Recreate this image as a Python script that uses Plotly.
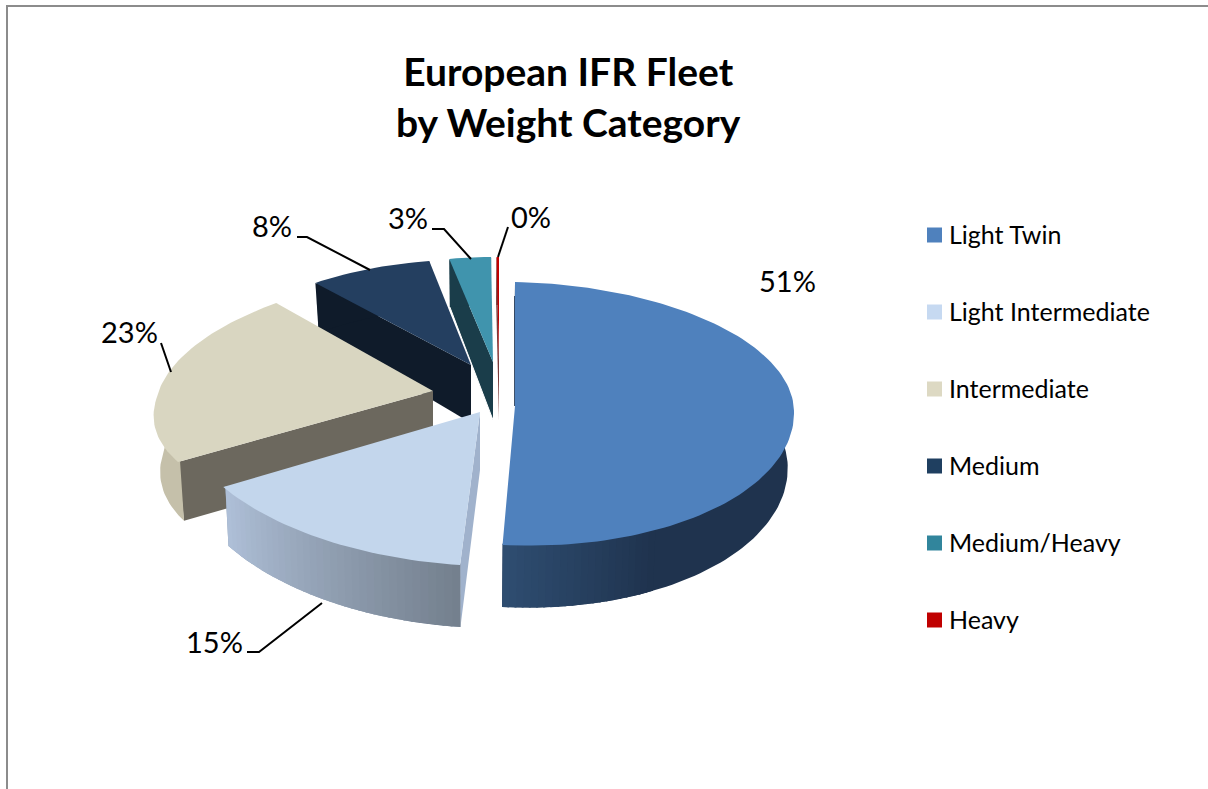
import numpy as np
import plotly.graph_objects as go

# ---- data ----
categories = ["Light Twin", "Light Intermediate", "Intermediate", "Medium", "Medium/Heavy", "Heavy"]
shares = [51, 15, 23, 8, 3, 0.3]
chart_title = "European IFR Fleet<br>by Weight Category"

# ---- styles ----
top_colors = ["#4f81bd", "#c3d6ec", "#d9d6c1", "#243f60", "#4094ad", "#c00000"]
legend_colors = ["#4f81bd", "#c6d9f1", "#ddd9c3", "#1f3f60", "#31859c", "#c00000"]
side_colors = ["#1f334e", "#a0b2cc", "#6c685e", "#0f1b2a", "#1a3d4a", "#7a3a3a"]
base_colors = ["#1f334e", "#8f9fb5", "#c5c0aa", "#0f1b2a", "#1a3d4a", "#7a3a3a"]
FONT = "Lato"

# ---- per-slice projection of the exploded 3-D pie: apex, U, V(front), V(back) ----
camera = [
    dict(a=(515, 406), u=(279, 6), v=(2.4, 139.5), vb=(0, 124)),
    dict(a=(480, 412), u=(304, 10.7), v=(-3.75, 153.8), vb=(-3.75, 153.8)),
    dict(a=(433, 391), u=(276, -5.9), v=(-43.6, 120.9), vb=(-29.8, 120.9)),
    dict(a=(471, 365), u=(251, 2.6), v=(-10, 105.8), vb=(-10, 105.8)),
    dict(a=(493, 362), u=(224, 1.5), v=(-2.3, 105), vb=(-2.3, 105)),
    dict(a=(499, 362), u=(130, 0), v=(0, 105), vb=(0, 105)),
]
DEPTH_BACK, DEPTH_FRONT, DEPTH_APEX = 48, 62, 58
VANISH_X, VANISH_K = 480, 0.02


def rim(theta, c):
    X, Y = np.sin(theta), -np.cos(theta)
    vx = np.where(Y >= 0, c["v"][0], c["vb"][0])
    vy = np.where(Y >= 0, c["v"][1], c["vb"][1])
    return (c["a"][0] + c["u"][0] * X + vx * Y,
            c["a"][1] + c["u"][1] * X + vy * Y)


def drop(theta, x, y):
    Y = -np.cos(theta)
    d = DEPTH_BACK + (DEPTH_FRONT - DEPTH_BACK) * (Y + 1) / 2
    return x + (VANISH_X - x) * VANISH_K, y + d


def inset(x, y, c, k=0.992):
    return c["a"][0] + (x - c["a"][0]) * k, c["a"][1] + (y - c["a"][1]) * k


def hexmix(c1, c2, t):
    a = [int(c1[i:i + 2], 16) for i in (1, 3, 5)]
    b = [int(c2[i:i + 2], 16) for i in (1, 3, 5)]
    return "#%02x%02x%02x" % tuple(int(round(p + (q - p) * t)) for p, q in zip(a, b))


def rim_color(i, t, theta_deg):
    if i == 0:
        return hexmix("#1f334e", "#2f4e72", np.clip((theta_deg - 150) / 33, 0, 1))
    if i == 1:
        return hexmix("#74808e", "#aebfd7", t)
    return base_colors[i]


fig = go.Figure()


def poly(xs, ys, color, width=0.0):
    fig.add_trace(go.Scatter(
        x=list(xs), y=list(ys), mode="lines", fill="toself", fillcolor=color,
        line=dict(color=color, width=width), hoverinfo="skip", showlegend=False))


def stroke(xs, ys, color, width):
    fig.add_trace(go.Scatter(x=list(xs), y=list(ys), mode="lines",
                             line=dict(color=color, width=width),
                             hoverinfo="skip", showlegend=False))


fracs = np.array(shares, dtype=float) / sum(shares)
edges = np.concatenate([[0], np.cumsum(fracs)]) * 2 * np.pi

# painter's order: back slices first
for i in [5, 4, 3, 2, 1, 0]:
    c = camera[i]
    t0, t1 = edges[i], edges[i + 1]
    ax, ay = c["a"]
    ex, ey = rim(np.array(t0), c)
    bx, by = drop(t0, ex, ey)
    if i != 0:
        poly([ax, float(ex), float(bx), ax, ax], [ay, float(ey), float(by), ay + DEPTH_APEX, ay],
             side_colors[i])
    if i == 4:  # pale highlight where this wall passes in front of its neighbour
        stroke([float(bx), ax], [float(by), ay + DEPTH_APEX], "#ffffff", 1)
    # rim wall: solid base, then shaded bands for the slices that have a gradient
    th = np.linspace(t0, t1, max(3, int((t1 - t0) / np.radians(1.5))))
    x, y = rim(th, c)
    xb, yb = drop(th, x, y)
    xi, yi = inset(x, y, c)
    poly(np.r_[xi, xb[::-1], xi[0]], np.r_[yi, yb[::-1], yi[0]], base_colors[i])
    if i < 2:
        lo = np.radians(150) if i == 0 else t0
        n_bands = int((t1 - lo) / np.radians(1.5))
        band = np.linspace(lo, t1, n_bands + 1)
        for k in range(n_bands):
            tb = np.array([band[k], min(band[k + 1] + np.radians(0.4), t1)])
            bx_, by_ = rim(tb, c)
            dx_, dy_ = drop(tb, bx_, by_)
            ix_, iy_ = inset(bx_, by_, c)
            col = rim_color(i, k / max(1, n_bands - 1), np.degrees(band[k]))
            poly(np.r_[ix_, dx_[::-1], ix_[0]], np.r_[iy_, dy_[::-1], iy_[0]], col)
    if i == 0:  # hairline of the back wall along the first edge
        stroke([float(ex) - 0.4, ax - 0.4], [float(ey) + 14, ay], "#2a3f5c", 1)
    # top face
    poly(np.r_[ax, x, ax], np.r_[ay, y, ay], top_colors[i])

# ---- leader lines ----
leaders = {
    "Intermediate": ([171, 161], [372, 343]),
    "Medium": ([370, 307, 297], [270, 237, 237]),
    "Medium/Heavy": ([471, 444, 432], [259, 229, 229]),
    "Heavy": ([498, 508], [257, 227]),
    "Light Intermediate": ([322, 259, 247], [603, 652, 652]),
}
for name, (lx, ly) in leaders.items():
    stroke(lx, ly, "black", 2)

# ---- percentage labels ----
label_xy = [(787, 280), (214, 641), (129, 331), (272, 225), (408, 217), (531, 216)]
annots = [dict(x=lx, y=ly, xref="x", yref="y", text=f"{round(v)}%", showarrow=False,
               font=dict(family=FONT, size=29, color="black"))
          for v, (lx, ly) in zip(shares, label_xy)]
annots.append(dict(x=568, y=96, xref="x", yref="y",
                   text="<b>" + chart_title.replace("<br>", "</b><br><b>") + "</b>",
                   showarrow=False, font=dict(family=FONT, size=39, color="black"), align="center"))

# ---- legend, drawn at its reference spacing ----
LEG_X, LEG_TX, LEG_Y0, LEG_DY = 934.5, 949, 235, 77
leg_y = [LEG_Y0 + j * LEG_DY for j in range(len(categories))]
fig.add_trace(go.Scatter(
    x=[LEG_X] * len(categories), y=leg_y, mode="markers",
    marker=dict(symbol="square", size=15, color=legend_colors, line=dict(width=0)),
    hoverinfo="skip", showlegend=False))
fig.add_trace(go.Scatter(
    x=[LEG_TX] * len(categories), y=[v + 3 for v in leg_y], mode="text", text=categories,
    textposition="middle right", textfont=dict(family=FONT, size=25, color="black"),
    hoverinfo="skip", showlegend=False))

fig.update_layout(
    width=1208, height=789, margin=dict(l=0, r=0, t=0, b=0),
    paper_bgcolor="white", plot_bgcolor="white", showlegend=False,
    xaxis=dict(range=[0, 1208], visible=False, fixedrange=True, domain=[0, 1]),
    yaxis=dict(range=[789, 0], visible=False, fixedrange=True, domain=[0, 1]),
    annotations=annots,
    shapes=[
        dict(type="line", x0=7, x1=7, y0=6, y1=789, xref="x", yref="y", line=dict(color="#8c8c8c", width=2)),
        dict(type="line", x0=6, x1=1208, y0=6, y1=6, xref="x", yref="y", line=dict(color="#8c8c8c", width=2)),
    ],
)
fig.write_html("out.html", config={"displayModeBar": False},
               post_script="document.body.style.margin='0';document.documentElement.style.overflow='hidden';")
